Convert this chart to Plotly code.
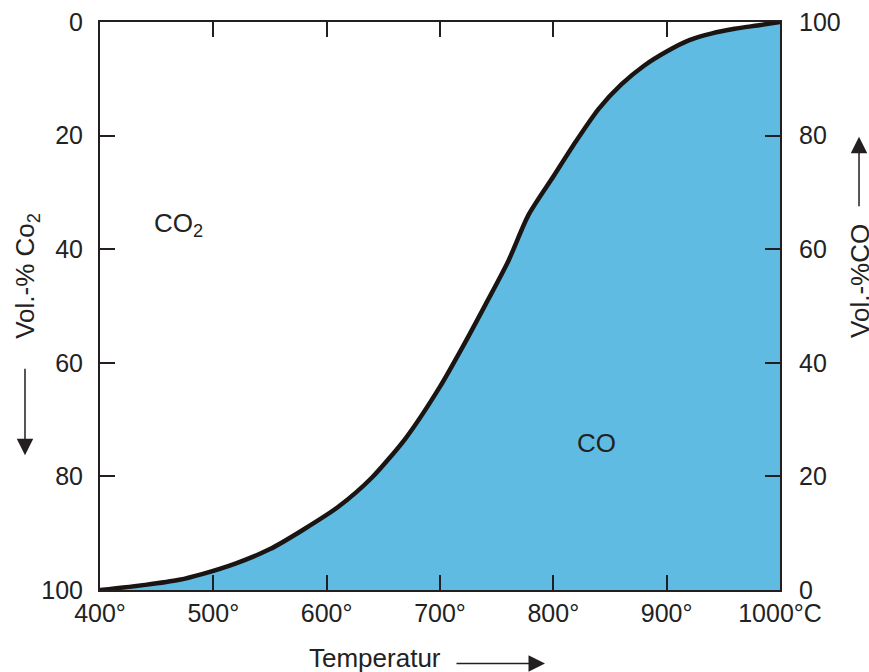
import plotly.graph_objects as go

# Temperature (°C) and CO volume percent
temperature = [400, 440, 470, 490, 520, 550, 580, 610, 640, 670, 700, 720, 740,
               760, 778, 800, 820, 840, 860, 880, 900, 920, 940, 960, 980, 1000]
co_percent = [0, 0.9, 1.8, 2.8, 4.7, 7.2, 10.7, 14.6, 19.8, 26.8, 35.8, 42.8, 50.2,
              57.8, 66.0, 72.8, 79.0, 84.7, 89.0, 92.3, 94.8, 96.8, 98.0, 98.8, 99.4, 100]

# CO2 axis (left, reversed) reference range endpoints
co2_axis_ends = [0, 100]

x_tickvals = [400, 500, 600, 700, 800, 900, 1000]
x_ticktext = ["400°", "500°", "600°", "700°", "800°", "900°", "1000°C"]
left_ticks = [0, 20, 40, 60, 80, 100]
right_ticks = [0, 20, 40, 60, 80, 100]

FONT = "Liberation Sans, Arial, sans-serif"
DARK = "#231f20"
FILL = "#60bbe3"
TICK_FS = 25
LBL_FS = 26

fig = go.Figure()
fig.add_trace(go.Scatter(
    x=temperature, y=co_percent, yaxis="y2", mode="lines",
    line=dict(color="#1a1512", width=4.5, shape="spline", smoothing=0.7),
    fill="tozeroy", fillcolor=FILL, hoverinfo="skip", showlegend=False,
))
# invisible helper trace so the left (CO2) axis is drawn
fig.add_trace(go.Scatter(
    x=[temperature[0], temperature[-1]], y=co2_axis_ends, yaxis="y", mode="lines",
    line=dict(width=0, color="rgba(0,0,0,0)"), hoverinfo="skip", showlegend=False,
))

axis_common = dict(showgrid=False, zeroline=False, showline=True, linecolor=DARK,
                   linewidth=2, ticks="inside", ticklen=15, tickwidth=2,
                   tickcolor=DARK, automargin=False,
                   tickfont=dict(family=FONT, size=TICK_FS, color="#222"))

fig.update_layout(
    width=869, height=672,
    margin=dict(l=100, r=89, t=22, b=82),
    paper_bgcolor="white", plot_bgcolor="white",
    font=dict(family=FONT, color="#222"),
    xaxis=dict(range=[400, 1000], tickvals=x_tickvals, ticktext=x_ticktext,
               mirror="ticks", ticklabelstandoff=0, **axis_common),
    yaxis=dict(range=[100, 0], tickvals=left_ticks, ticklabelstandoff=10,
               **axis_common),
    yaxis2=dict(range=[0, 100], tickvals=right_ticks, overlaying="y", side="right",
                ticklabelstandoff=12, **axis_common),
)

ann_font = dict(family=FONT, size=LBL_FS, color="#222")
center = dict(xanchor="center", yanchor="middle", showarrow=False, font=ann_font)
annotations = [
    dict(text="Vol.-% Co<sub>2</sub>", xref="paper", yref="paper", x=-0.1074, y=0.553,
         textangle=-90, **center),
    dict(text="Vol.-%CO", xref="paper", yref="paper", x=1.1176, y=0.544,
         textangle=-90, **center),
    dict(text="Temperatur", xref="paper", yref="paper", x=0.4044, y=-0.119, **center),
    dict(text="CO<sub>2</sub>", xref="x", yref="y2", x=469, y=64.3, **center),
    dict(text="CO", xref="x", yref="y2", x=838.5, y=25.8, **center),
    # arrows
    dict(text="", xref="paper", yref="paper", x=-0.1103, y=0.2372, ax=0, ay=-88,
         showarrow=True, arrowhead=2, arrowsize=2.2, arrowwidth=1.5, arrowcolor=DARK),
    dict(text="", xref="paper", yref="paper", x=1.1162, y=0.798, ax=0, ay=71,
         showarrow=True, arrowhead=2, arrowsize=2.2, arrowwidth=1.5, arrowcolor=DARK),
    dict(text="", xref="paper", yref="paper", x=0.6544, y=-0.1296, ax=-90, ay=0,
         showarrow=True, arrowhead=2, arrowsize=2.2, arrowwidth=1.5, arrowcolor=DARK),
]
fig.update_layout(annotations=annotations)

fig.write_html("out.html", config={"displayModeBar": False},
               post_script="document.body.style.margin='0';")
